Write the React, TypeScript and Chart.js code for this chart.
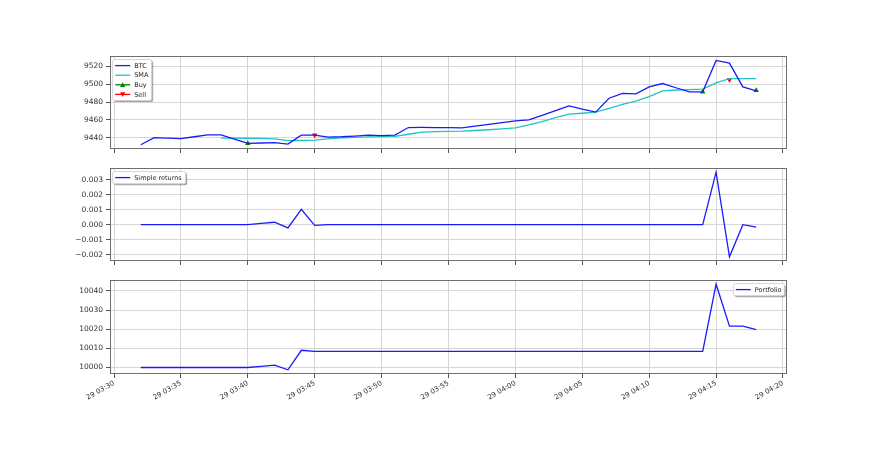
import { useEffect, useRef } from "react";
import { Chart, registerables } from "chart.js";

Chart.register(...registerables);

// ---------- data ----------
const times = [
  "03:32", "03:33", "03:34", "03:35", "03:36", "03:37", "03:38", "03:39", "03:40", "03:41",
  "03:42", "03:43", "03:44", "03:45", "03:46", "03:47", "03:48", "03:49", "03:50", "03:51",
  "03:52", "03:53", "03:54", "03:55", "03:56", "03:57", "03:58", "03:59", "04:00", "04:01",
  "04:02", "04:03", "04:04", "04:05", "04:06", "04:07", "04:08", "04:09", "04:10", "04:11",
  "04:12", "04:13", "04:14", "04:15", "04:16", "04:17", "04:18",
];

const btc = [
  9432.2, 9440.2, 9439.6, 9439.0, 9441.2, 9443.3, 9443.3, 9438.5, 9433.8, 9434.2,
  9434.6, 9433.0, 9443.0, 9443.0, 9440.8, 9441.2, 9442.0, 9443.0, 9442.4, 9443.0,
  9451.5, 9451.6, 9451.4, 9451.3, 9451.2, 9453.0, 9455.0, 9457.0, 9459.0, 9460.0,
  9465.0, 9470.5, 9475.8, 9472.0, 9468.7, 9484.3, 9489.8, 9489.2, 9497.0, 9500.7,
  9496.0, 9491.4, 9491.4, 9526.5, 9523.6, 9497.0, 9492.5,
];

const sma = [
  null, null, null, null, null, null, 9439.6, 9439.6, 9439.5, 9439.3,
  9438.8, 9436.8, 9437.0, 9437.4, 9438.8, 9440.0, 9440.5, 9441.0, 9441.3, 9441.6,
  9444.0, 9446.4, 9447.0, 9447.3, 9447.4, 9448.2, 9449.0, 9450.0, 9451.2, 9454.5,
  9458.2, 9462.5, 9466.5, 9467.5, 9468.7, 9473.0, 9477.5, 9481.0, 9486.0, 9492.5,
  9493.5, 9494.0, 9494.4, 9501.5, 9506.3, 9506.3, 9506.3,
];

const buyTimes = ["03:40", "04:14", "04:18"];
const buyPrices = [9433.8, 9491.4, 9493.0];
const sellTimes = ["03:45", "04:16"];
const sellPrices = [9443.0, 9505.0];

const simpleReturns = [
  0, 0, 0, 0, 0, 0, 0, 0, 0, 0.00008,
  0.00016, -0.00022, 0.00102, -0.00005, 0, 0, 0, 0, 0, 0,
  0, 0, 0, 0, 0, 0, 0, 0, 0, 0,
  0, 0, 0, 0, 0, 0, 0, 0, 0, 0,
  0, 0, 0, 0.00351, -0.00215, 0, -0.00017,
];

const portfolio = [
  10000, 10000, 10000, 10000, 10000, 10000, 10000, 10000, 10000, 10000.6,
  10001.2, 9998.8, 10009.0, 10008.4, 10008.4, 10008.4, 10008.4, 10008.4, 10008.4, 10008.4,
  10008.4, 10008.4, 10008.4, 10008.4, 10008.4, 10008.4, 10008.4, 10008.4, 10008.4, 10008.4,
  10008.4, 10008.4, 10008.4, 10008.4, 10008.4, 10008.4, 10008.4, 10008.4, 10008.4, 10008.4,
  10008.4, 10008.4, 10008.4, 10043.5, 10021.6, 10021.6, 10019.8,
];

const xTickTimes = ["03:30", "03:35", "03:40", "03:45", "03:50", "03:55", "04:00", "04:05", "04:10", "04:15", "04:20"];
const xTickLabels = ["29 03:30", "29 03:35", "29 03:40", "29 03:45", "29 03:50", "29 03:55", "29 04:00", "29 04:05", "29 04:10", "29 04:15", "29 04:20"];

const priceTicks = [9440, 9460, 9480, 9500, 9520];
const priceTickLabels = ["9440", "9460", "9480", "9500", "9520"];
const returnTicks = [-0.002, -0.001, 0, 0.001, 0.002, 0.003];
const returnTickLabels = ["\u22120.002", "\u22120.001", "0.000", "0.001", "0.002", "0.003"];
const portfolioTicks = [10000, 10010, 10020, 10030, 10040];
const portfolioTickLabels = ["10000", "10010", "10020", "10030", "10040"];

// ---------- helpers ----------
const toMin = (t: string) => {
  const [h, m] = t.split(":").map(Number);
  return (h - 3) * 60 + m;
};
const pts = (ts: string[], vs: (number | null)[]) => ts.map((t, i) => ({ x: toMin(t), y: vs[i] }));

const FONT = '"DejaVu Sans", sans-serif';
const X_MIN = 29.7;
const X_MAX = 80.3;

type LegendItem = { label: string; color: string; marker?: "up" | "down" };

function tri(ctx: CanvasRenderingContext2D, cx: number, cy: number, r: number, up: boolean) {
  ctx.beginPath();
  if (up) {
    ctx.moveTo(cx, cy - r);
    ctx.lineTo(cx + r, cy + r * 0.8);
    ctx.lineTo(cx - r, cy + r * 0.8);
  } else {
    ctx.moveTo(cx, cy + r);
    ctx.lineTo(cx + r, cy - r * 0.8);
    ctx.lineTo(cx - r, cy - r * 0.8);
  }
  ctx.closePath();
  ctx.fill();
}

function rr(ctx: CanvasRenderingContext2D, x: number, y: number, w: number, h: number, r: number) {
  ctx.beginPath();
  ctx.moveTo(x + r, y);
  ctx.lineTo(x + w - r, y);
  ctx.quadraticCurveTo(x + w, y, x + w, y + r);
  ctx.lineTo(x + w, y + h - r);
  ctx.quadraticCurveTo(x + w, y + h, x + w - r, y + h);
  ctx.lineTo(x + r, y + h);
  ctx.quadraticCurveTo(x, y + h, x, y + h - r);
  ctx.lineTo(x, y + r);
  ctx.quadraticCurveTo(x, y, x + r, y);
  ctx.closePath();
}

function legendPlugin(items: LegendItem[], corner: "left" | "right", boxW: number) {
  return {
    id: "mplLegend",
    afterDraw(chart: any) {
      const { ctx, chartArea } = chart;
      const rowH = 9.6;
      const h = items.length * rowH + 2.6;
      const x = corner === "left" ? chartArea.left + 2.7 : chartArea.right - 2.7 - boxW;
      const y = chartArea.top + 3.5;
      ctx.save();
      ctx.fillStyle = "rgba(0,0,0,0.35)";
      rr(ctx, x + 1.5, y + 1.5, boxW, h, 2);
      ctx.fill();
      ctx.fillStyle = "#ffffff";
      rr(ctx, x, y, boxW, h, 2);
      ctx.fill();
      ctx.strokeStyle = "#cccccc";
      ctx.lineWidth = 0.8;
      ctx.stroke();
      items.forEach((it, i) => {
        const cy = y + 1.3 + rowH * (i + 0.5);
        ctx.strokeStyle = it.color;
        ctx.lineWidth = 1.3;
        ctx.beginPath();
        ctx.moveTo(x + 2.5, cy);
        ctx.lineTo(x + 17.5, cy);
        ctx.stroke();
        if (it.marker) {
          ctx.fillStyle = it.color;
          tri(ctx, x + 10, cy, 2.6, it.marker === "up");
        }
        ctx.fillStyle = "#222222";
        ctx.font = `6.5px ${FONT}`;
        ctx.textBaseline = "middle";
        ctx.textAlign = "left";
        ctx.fillText(it.label, x + 21.5, cy + 0.5);
      });
      ctx.restore();
    },
  };
}

const framePlugin = {
  id: "frame",
  afterDatasetsDraw(chart: any) {
    const { ctx, chartArea } = chart;
    ctx.save();
    ctx.strokeStyle = "#6f6f6f";
    ctx.lineWidth = 1;
    ctx.strokeRect(
      Math.round(chartArea.left) + 0.5,
      Math.round(chartArea.top) + 0.5,
      Math.round(chartArea.right - chartArea.left) - 1,
      Math.round(chartArea.bottom - chartArea.top) - 1
    );
    ctx.restore();
  },
};

type PanelCfg = {
  datasets: any[];
  yMin: number;
  yMax: number;
  yTicks: number[];
  yLabels: string[];
  showXLabels: boolean;
  padTop: number;
  xAxisH: number;
  legend: LegendItem[];
  legendCorner: "left" | "right";
  legendW: number;
};

function makeChart(canvas: HTMLCanvasElement, cfg: PanelCfg) {
  const xTickVals = xTickTimes.map(toMin);
  return new Chart(canvas, {
    type: "line",
    data: { datasets: cfg.datasets },
    plugins: [framePlugin, legendPlugin(cfg.legend, cfg.legendCorner, cfg.legendW)],
    options: {
      responsive: false,
      animation: false,
      devicePixelRatio: 1,
      layout: { padding: { left: 0, right: 88, top: cfg.padTop, bottom: 0 } },
      plugins: { legend: { display: false }, tooltip: { enabled: false } },
      elements: { line: { tension: 0 } },
      scales: {
        x: {
          type: "linear",
          min: X_MIN,
          max: X_MAX,
          afterBuildTicks: (axis: any) => {
            axis.ticks = xTickVals.map((v) => ({ value: v }));
          },
          afterFit: (axis: any) => {
            axis.height = cfg.xAxisH;
          },
          grid: { color: "#d6d6d6", lineWidth: 1, tickColor: "#555555", tickLength: 4, drawTicks: true },
          border: { display: false },
          ticks: {
            display: cfg.showXLabels,
            autoSkip: false,
            minRotation: 30,
            maxRotation: 30,
            padding: 1,
            color: "#333333",
            font: { family: FONT, size: 7 },
            callback: (v: any) => {
              const i = xTickVals.indexOf(Number(v));
              return i >= 0 ? xTickLabels[i] : "";
            },
          },
        },
        y: {
          type: "linear",
          min: cfg.yMin,
          max: cfg.yMax,
          afterBuildTicks: (axis: any) => {
            axis.ticks = cfg.yTicks.map((v) => ({ value: v }));
          },
          afterFit: (axis: any) => {
            axis.width = 110;
          },
          grid: { color: "#d6d6d6", lineWidth: 1, tickColor: "#555555", tickLength: 4, drawTicks: true },
          border: { display: false },
          ticks: {
            autoSkip: false,
            padding: 3,
            color: "#333333",
            font: { family: FONT, size: 7.5 },
            callback: (v: any) => {
              const i = cfg.yTicks.findIndex((t) => Math.abs(t - Number(v)) < 1e-9);
              return i >= 0 ? cfg.yLabels[i] : "";
            },
          },
        },
      },
    } as any,
  });
}

export default function App() {
  const c1 = useRef<HTMLCanvasElement>(null);
  const c2 = useRef<HTMLCanvasElement>(null);
  const c3 = useRef<HTMLCanvasElement>(null);

  useEffect(() => {
    const line = (label: string, data: any[], color: string) => ({
      label,
      data,
      borderColor: color,
      backgroundColor: color,
      borderWidth: 1.3,
      pointRadius: 0,
      fill: false,
      spanGaps: false,
    });

    const ch1 = makeChart(c1.current!, {
      datasets: [
        line("BTC", pts(times, btc), "#1a1aff"),
        line("SMA", pts(times, sma), "#1fc4c4"),
        {
          label: "Buy",
          data: pts(buyTimes, buyPrices),
          showLine: false,
          pointStyle: "triangle",
          pointRadius: 3.2,
          borderWidth: 0,
          backgroundColor: "#008000",
          borderColor: "#008000",
        },
        {
          label: "Sell",
          data: pts(sellTimes, sellPrices),
          showLine: false,
          pointStyle: "triangle",
          rotation: 180,
          pointRadius: 3.2,
          borderWidth: 0,
          backgroundColor: "#ff0000",
          borderColor: "#ff0000",
        },
      ],
      yMin: 9427.5,
      yMax: 9531.5,
      yTicks: priceTicks,
      yLabels: priceTickLabels,
      showXLabels: false,
      padTop: 56,
      xAxisH: 11,
      legend: [
        { label: "BTC", color: "#1a1aff" },
        { label: "SMA", color: "#1fc4c4" },
        { label: "Buy", color: "#008000", marker: "up" },
        { label: "Sell", color: "#ff0000", marker: "down" },
      ],
      legendCorner: "left",
      legendW: 39,
    });

    const ch2 = makeChart(c2.current!, {
      datasets: [line("Simple returns", pts(times, simpleReturns), "#1a1aff")],
      yMin: -0.00243,
      yMax: 0.00379,
      yTicks: returnTicks,
      yLabels: returnTickLabels,
      showXLabels: false,
      padTop: 8,
      xAxisH: 11,
      legend: [{ label: "Simple returns", color: "#1a1aff" }],
      legendCorner: "left",
      legendW: 73,
    });

    const ch3 = makeChart(c3.current!, {
      datasets: [line("Portfolio", pts(times, portfolio), "#1a1aff")],
      yMin: 9996.6,
      yMax: 10045.7,
      yTicks: portfolioTicks,
      yLabels: portfolioTickLabels,
      showXLabels: true,
      padTop: 8,
      xAxisH: 93,
      legend: [{ label: "Portfolio", color: "#1a1aff" }],
      legendCorner: "right",
      legendW: 51,
    });

    return () => {
      ch1.destroy();
      ch2.destroy();
      ch3.destroy();
    };
  }, []);

  return (
    <div style={{ position: "fixed", left: 0, top: 0, width: 875, height: 467, background: "#ffffff", overflow: "hidden" }}>
      <canvas ref={c1} width={875} height={160} style={{ position: "absolute", left: 0, top: 0, width: 875, height: 160 }} />
      <canvas ref={c2} width={875} height={112} style={{ position: "absolute", left: 0, top: 160, width: 875, height: 112 }} />
      <canvas ref={c3} width={875} height={195} style={{ position: "absolute", left: 0, top: 272, width: 875, height: 195 }} />
    </div>
  );
}
